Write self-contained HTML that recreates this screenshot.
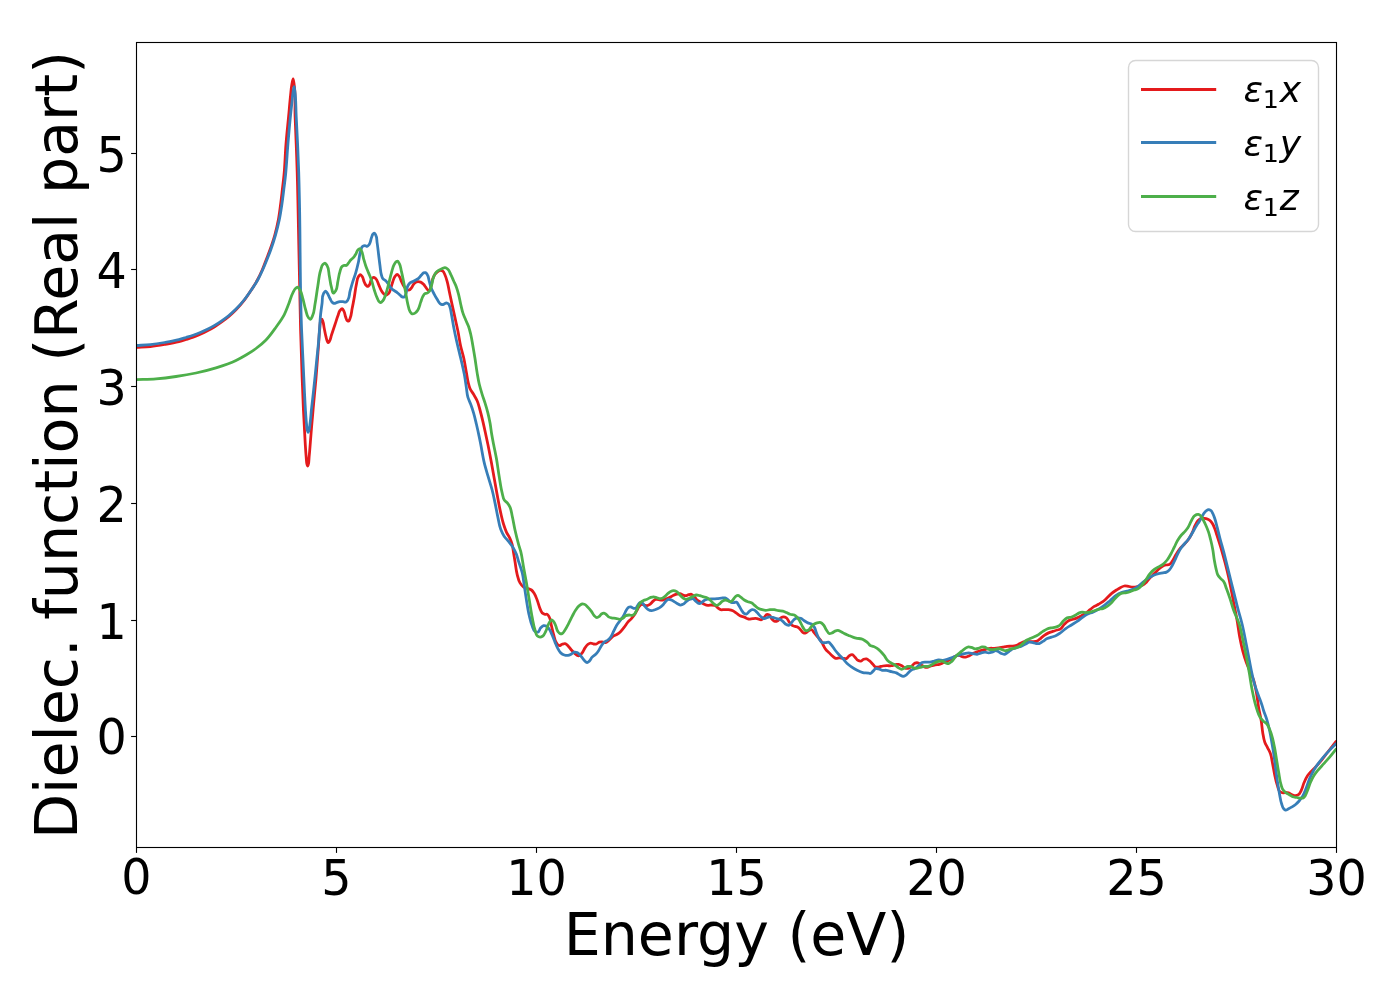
<!DOCTYPE html>
<html lang="en"><head><meta charset="utf-8"><title>Dielectric function (Real part)</title>
<style>html,body{margin:0;padding:0;background:#fff}body{width:1400px;height:1000px;overflow:hidden}svg{display:block}text{font-family:"DejaVu Sans","Liberation Sans",sans-serif;fill:#000}.tk{font-size:47.60px}.lb{font-size:58.60px}.lg{font-size:36.10px}.it{font-style:oblique}.sb{font-size:25.30px}</style></head><body>
<svg width="1400" height="1000" viewBox="0 0 1400 1000">
<rect width="1400" height="1000" fill="#fff"/>
<defs><clipPath id="ax"><rect x="136.5" y="42.5" width="1200.0" height="805.0"/></clipPath></defs>
<g clip-path="url(#ax)" fill="none" stroke-width="2.78" stroke-linejoin="round" stroke-linecap="butt">
<path stroke="#e41a1c" d="M136.50 347.40C141.10 347.13 145.72 347.06 150.30 346.60C155.09 346.12 159.86 345.33 164.60 344.50C169.39 343.66 174.20 342.84 178.90 341.60C181.28 340.97 183.64 340.23 186.00 339.50C188.38 338.76 190.77 338.06 193.10 337.20C195.54 336.30 197.93 335.26 200.30 334.20C202.69 333.13 205.08 332.01 207.40 330.80C209.85 329.52 212.26 328.16 214.60 326.70C217.03 325.19 219.38 323.57 221.70 321.90C224.15 320.14 226.59 318.34 228.90 316.40C231.37 314.32 233.74 312.11 236.00 309.80C238.95 306.78 241.72 303.55 244.30 300.20C246.81 296.94 249.06 293.46 251.30 290.00C253.42 286.72 255.54 283.43 257.40 280.00C259.16 276.75 260.73 273.39 262.20 270.00C263.62 266.72 264.81 263.34 266.10 260.00C267.38 256.67 268.70 253.36 269.90 250.00C271.67 245.05 273.39 240.06 274.80 235.00C276.18 230.06 277.35 225.04 278.30 220.00C279.24 215.04 279.83 210.01 280.50 205.00C281.17 200.01 281.72 195.00 282.30 190.00C282.88 185.00 283.51 180.01 284.00 175.00C285.00 164.70 285.15 154.32 285.98 144.00C286.73 134.66 287.76 125.33 288.64 116.00C289.30 109.00 289.85 101.99 290.60 95.00C290.95 91.73 291.14 88.43 291.72 85.20C292.10 83.09 292.70 78.88 293.12 78.90C293.54 78.92 293.92 83.09 294.24 85.20C295.78 95.34 294.73 105.74 295.08 116.00C295.40 125.34 295.85 134.67 296.20 144.00C296.55 153.33 296.90 162.67 297.18 172.00C297.46 181.33 297.65 190.67 297.88 200.00C298.93 243.33 299.33 286.68 300.60 330.00C301.05 345.50 301.51 361.00 302.10 376.50C302.31 382.00 302.54 387.50 302.76 393.00C302.98 398.50 303.16 404.01 303.42 409.50C303.68 415.01 304.01 420.51 304.30 426.01C304.59 431.51 304.84 437.01 305.18 442.51C305.48 447.28 305.70 452.06 306.17 456.81C306.42 459.38 306.33 462.04 307.05 464.51C307.21 465.07 307.40 466.15 307.60 466.16C307.81 466.17 308.07 465.07 308.26 464.51C309.10 462.08 308.88 459.38 309.14 456.81C309.64 452.05 309.96 447.28 310.35 442.51C310.81 437.01 311.21 431.51 311.67 426.01C312.13 420.50 312.61 415.00 313.10 409.50C313.53 404.74 313.98 399.97 314.42 395.20C314.90 390.07 315.41 384.94 315.85 379.80C316.29 374.67 316.67 369.53 317.06 364.40C317.64 356.93 318.20 349.47 318.76 342.00C319.11 337.33 319.23 332.64 319.81 328.00C320.13 325.43 319.73 322.53 321.00 320.30C321.25 319.87 321.59 319.10 321.84 319.04C322.20 318.96 322.48 320.33 322.75 321.00C323.63 323.20 323.67 325.67 324.15 328.00C324.72 330.80 325.19 333.63 325.90 336.40C326.32 338.04 326.52 339.80 327.30 341.30C327.55 341.78 327.82 342.64 328.14 342.70C328.51 342.77 329.03 341.80 329.40 341.30C330.71 339.55 330.80 337.10 331.50 335.00C332.67 331.50 333.83 328.00 335.00 324.50C335.93 321.70 336.79 318.87 337.80 316.10C338.49 314.22 338.73 312.00 339.97 310.50C340.57 309.77 341.51 308.54 342.14 308.57C342.89 308.60 343.49 310.43 344.00 311.43C344.90 313.18 344.97 315.31 345.71 317.14C346.21 318.36 346.35 320.08 347.43 320.71C347.76 320.91 348.24 321.15 348.57 321.14C349.36 321.13 349.58 319.45 350.00 318.57C351.45 315.51 351.47 311.91 352.14 308.57C352.91 304.77 353.61 300.96 354.29 297.14C355.05 292.87 355.45 288.51 356.43 284.29C357.04 281.64 357.00 278.57 358.57 276.43C359.06 275.76 359.70 274.59 360.29 274.57C360.89 274.55 361.62 275.75 362.14 276.43C363.36 278.01 363.37 280.33 364.29 282.14C364.91 283.38 365.33 284.94 366.43 285.71C366.85 286.01 367.42 286.46 367.86 286.43C368.40 286.39 368.87 285.51 369.29 285.00C370.54 283.45 370.15 280.80 371.43 279.29C372.02 278.58 372.79 277.47 373.57 277.43C374.24 277.39 375.10 278.10 375.71 278.57C377.34 279.82 377.66 282.36 378.57 284.29C379.57 286.40 380.17 288.76 381.43 290.71C382.25 291.98 383.00 293.57 384.29 294.29C384.92 294.64 385.76 295.07 386.43 295.00C387.20 294.92 387.98 294.15 388.57 293.57C389.82 292.35 390.08 290.27 390.71 288.57C391.58 286.25 391.99 283.75 392.86 281.43C393.49 279.73 393.92 277.85 395.00 276.43C395.60 275.64 396.43 274.29 397.14 274.29C397.86 274.29 398.68 275.64 399.29 276.43C400.36 277.85 400.65 279.79 401.43 281.43C402.30 283.28 403.04 285.27 404.29 286.86C405.11 287.90 405.94 289.27 407.14 289.71C407.79 289.95 408.66 290.16 409.29 290.00C410.17 289.78 410.80 288.64 411.43 287.86C412.30 286.79 412.70 285.36 413.57 284.29C414.20 283.51 414.84 282.56 415.71 282.14C416.35 281.84 417.14 281.75 417.86 281.71C418.80 281.67 419.84 281.81 420.71 282.14C421.79 282.56 422.74 283.45 423.57 284.29C424.40 285.12 425.00 286.19 425.71 287.14C426.43 288.10 426.82 289.56 427.86 290.00C428.28 290.18 428.89 290.35 429.29 290.29C430.22 290.13 430.29 288.21 430.71 287.14C431.79 284.41 431.75 281.28 432.86 278.57C433.46 277.10 434.06 275.55 435.00 274.29C435.79 273.22 436.72 272.09 437.86 271.43C438.71 270.93 439.76 270.39 440.71 270.43C441.43 270.46 442.26 270.76 442.86 271.14C444.02 271.89 444.38 273.67 445.00 275.00C445.95 277.04 446.52 279.26 447.14 281.43C448.08 284.70 448.57 288.09 449.29 291.43C450.10 295.24 450.89 299.05 451.71 302.86C452.74 307.62 453.81 312.38 454.86 317.14C455.90 321.90 457.04 326.65 458.00 331.43C458.95 336.17 459.54 340.99 460.57 345.71C461.52 350.03 462.91 354.25 463.86 358.57C464.89 363.29 465.56 368.10 466.43 372.86C467.04 376.19 467.44 379.58 468.29 382.86C468.78 384.78 469.20 386.77 470.00 388.57C470.90 390.61 472.43 392.35 473.57 394.29C474.82 396.40 476.15 398.49 477.14 400.71C478.45 403.66 479.12 406.88 480.00 410.00C481.06 413.78 481.95 417.61 482.86 421.43C483.87 425.70 484.78 430.00 485.71 434.29C486.44 437.62 487.17 440.95 487.86 444.29C489.13 450.46 490.28 456.66 491.43 462.86C492.66 469.52 493.80 476.19 495.00 482.86C495.95 488.10 496.86 493.34 497.86 498.57C498.77 503.34 499.64 508.12 500.71 512.86C501.59 516.68 502.39 520.55 503.57 524.29C504.41 526.94 505.26 529.62 506.43 532.14C507.45 534.36 508.99 536.35 510.00 538.57C510.84 540.42 511.59 542.34 512.14 544.29C512.94 547.06 513.10 550.00 513.57 552.86C514.05 555.71 514.52 558.57 515.00 561.43C515.71 565.71 516.04 570.10 517.14 574.29C517.91 577.19 518.44 580.34 520.00 582.86C520.96 584.41 522.06 586.18 523.57 587.14C524.79 587.92 526.45 588.05 527.86 588.57C529.06 589.02 530.42 589.28 531.43 590.00C532.63 590.85 533.46 592.30 534.29 593.57C535.55 595.53 536.28 597.82 537.14 600.00C538.25 602.80 538.79 605.82 540.00 608.57C540.64 610.03 541.00 611.86 542.14 612.86C542.90 613.52 543.98 614.09 545.00 614.29C545.68 614.41 546.54 614.07 547.14 614.29C548.15 614.64 548.69 616.13 549.29 617.14C550.75 619.64 550.71 622.86 551.43 625.71C552.14 628.57 552.75 631.46 553.57 634.29C554.41 637.18 554.66 640.50 556.43 642.86C557.22 643.91 558.19 645.63 559.29 645.71C560.15 645.78 561.15 644.65 562.14 644.29C563.06 643.95 564.12 643.44 565.00 643.57C566.06 643.74 566.98 644.92 567.86 645.71C569.23 646.95 570.17 648.63 571.43 650.00C572.57 651.24 573.72 652.49 575.00 653.57C575.91 654.34 576.76 655.54 577.86 655.71C578.52 655.82 579.38 655.70 580.00 655.43C580.95 655.00 581.49 653.76 582.14 652.86C583.27 651.31 583.91 649.43 585.00 647.86C585.87 646.61 586.63 645.10 587.86 644.29C588.68 643.74 589.75 643.18 590.71 643.14C591.65 643.11 592.60 643.86 593.57 644.00C594.50 644.13 595.55 644.24 596.43 644.00C597.48 643.72 598.24 642.49 599.29 642.14C600.17 641.85 601.20 641.83 602.14 641.86C603.34 641.89 604.62 642.76 605.71 642.57C607.04 642.34 608.17 640.94 609.29 640.00C610.57 638.92 611.50 637.39 612.86 636.43C614.14 635.51 615.81 635.15 617.14 634.29C618.42 633.47 619.62 632.48 620.71 631.43C622.05 630.15 623.15 628.61 624.29 627.14C625.54 625.53 626.53 623.69 627.86 622.14C628.95 620.87 630.31 619.83 631.43 618.57C632.44 617.43 633.42 616.25 634.29 615.00C635.38 613.43 636.17 611.65 637.14 610.00C637.85 608.80 638.42 607.50 639.29 606.43C639.92 605.65 640.58 604.51 641.43 604.29C642.25 604.06 643.33 604.76 644.29 605.00C645.24 605.24 646.23 605.80 647.14 605.71C648.14 605.62 649.14 604.88 650.00 604.29C651.09 603.53 651.84 602.30 652.86 601.43C653.76 600.65 654.64 599.51 655.71 599.29C656.59 599.11 657.62 599.60 658.57 599.71C659.99 599.88 661.46 600.17 662.86 600.00C664.32 599.82 665.75 599.14 667.14 598.57C668.62 597.96 670.00 597.14 671.43 596.43C672.86 595.71 674.19 594.65 675.71 594.29C676.63 594.07 677.64 594.21 678.57 594.00C679.05 593.89 679.53 593.60 680.00 593.57C681.00 593.51 681.86 594.64 682.86 595.00C683.77 595.33 684.77 595.75 685.71 595.71C686.68 595.67 687.60 594.95 688.57 594.71C689.50 594.49 690.56 594.11 691.43 594.29C692.51 594.51 693.42 595.62 694.29 596.43C695.39 597.46 696.00 599.02 697.14 600.00C698.18 600.89 699.52 601.43 700.71 602.14C701.90 602.86 703.03 603.72 704.29 604.29C705.42 604.79 706.64 605.32 707.86 605.43C709.02 605.53 710.24 605.00 711.43 605.00C712.62 605.00 713.95 604.98 715.00 605.43C716.10 605.90 716.85 607.11 717.86 607.86C718.77 608.53 719.67 609.42 720.71 609.71C721.81 610.02 723.10 609.58 724.29 609.57C725.71 609.56 727.16 609.53 728.57 609.71C730.02 609.90 731.54 610.13 732.86 610.71C734.15 611.28 735.25 612.32 736.43 613.14C737.63 613.98 738.71 615.05 740.00 615.71C741.32 616.39 742.88 616.61 744.29 617.14C745.74 617.70 747.08 618.78 748.57 619.00C749.95 619.20 751.43 618.64 752.86 618.57C754.28 618.50 755.74 618.39 757.14 618.57C758.60 618.76 760.18 620.07 761.43 619.71C762.51 619.41 763.36 618.02 764.29 617.14C765.26 616.22 765.98 614.35 767.14 614.29C767.79 614.25 768.66 614.64 769.29 615.00C770.71 615.81 770.94 618.09 772.14 619.29C772.98 620.11 773.94 621.26 775.00 621.43C775.88 621.56 777.01 621.14 777.86 620.71C779.01 620.12 779.58 618.52 780.71 617.86C781.56 617.36 782.62 616.86 783.57 616.86C784.52 616.86 785.62 617.34 786.43 617.86C787.80 618.74 788.24 620.79 789.29 622.14C790.17 623.29 790.94 624.70 792.14 625.43C792.98 625.94 794.03 626.14 795.00 626.43C795.94 626.71 797.01 626.71 797.86 627.14C799.01 627.73 799.76 629.05 800.71 630.00C801.67 630.95 802.36 632.53 803.57 632.86C804.21 633.03 805.05 633.02 805.71 632.86C806.82 632.59 807.53 631.25 808.57 630.71C809.46 630.26 810.59 629.60 811.43 629.71C812.61 629.88 813.35 631.79 814.29 632.86C815.51 634.26 816.67 635.71 817.86 637.14C819.05 638.57 820.43 639.87 821.43 641.43C822.29 642.76 822.80 644.32 823.57 645.71C824.24 646.93 824.88 648.19 825.71 649.29C826.73 650.61 828.10 651.67 829.29 652.86C830.48 654.05 831.53 655.40 832.86 656.43C833.75 657.12 834.68 658.03 835.71 658.29C836.81 658.55 838.10 657.86 839.29 657.86C840.48 657.86 841.66 658.17 842.86 658.29C844.05 658.40 845.40 658.92 846.43 658.57C847.59 658.18 848.15 656.38 849.29 655.71C850.14 655.22 851.27 654.61 852.14 654.71C853.22 654.85 854.10 656.28 855.00 657.14C856.02 658.12 856.67 659.61 857.86 660.29C858.69 660.76 859.82 661.24 860.71 661.14C861.74 661.03 862.53 659.66 863.57 659.29C864.46 658.97 865.54 658.69 866.43 658.86C867.47 659.05 868.39 660.02 869.29 660.71C870.61 661.74 871.67 663.10 872.86 664.29C873.81 665.24 874.56 666.75 875.71 667.14C876.74 667.49 878.11 667.04 879.29 666.86C880.49 666.67 881.65 666.19 882.86 666.00C884.27 665.78 885.71 665.76 887.14 665.71C888.57 665.67 890.02 665.90 891.43 665.71C892.88 665.53 894.26 664.81 895.71 664.57C896.66 664.42 897.66 664.17 898.57 664.29C899.83 664.45 900.99 665.36 902.14 666.00C903.38 666.68 904.41 668.03 905.71 668.29C906.82 668.51 908.21 668.29 909.29 667.86C910.35 667.43 911.22 666.47 912.14 665.71C913.13 664.90 913.86 663.58 915.00 663.14C915.85 662.81 916.97 662.68 917.86 662.86C918.89 663.06 919.77 663.99 920.71 664.57C921.92 665.31 922.98 666.38 924.29 666.86C925.18 667.18 926.21 667.48 927.14 667.43C928.37 667.37 929.50 666.39 930.71 666.00C932.11 665.55 933.56 665.29 935.00 665.00C936.42 664.72 937.90 664.67 939.29 664.29C940.76 663.88 942.15 663.16 943.57 662.57C945.01 661.97 946.46 661.41 947.86 660.71C949.33 659.99 950.74 659.14 952.14 658.29C953.35 657.55 954.41 656.47 955.71 656.00C956.82 655.60 958.13 655.31 959.29 655.43C960.52 655.55 961.62 656.58 962.86 656.86C963.78 657.06 964.79 657.24 965.71 657.14C966.95 657.01 968.14 656.28 969.29 655.71C970.53 655.10 971.63 654.21 972.86 653.57C974.24 652.86 975.69 652.27 977.14 651.71C978.55 651.18 979.98 650.69 981.43 650.29C982.84 649.89 984.29 649.62 985.71 649.29C987.14 648.95 988.55 648.45 990.00 648.29C991.41 648.13 992.86 648.36 994.29 648.29C995.72 648.21 997.15 648.05 998.57 647.86C1000.01 647.67 1001.43 647.38 1002.86 647.14C1004.29 646.90 1005.71 646.60 1007.14 646.43C1008.56 646.26 1010.00 646.26 1011.43 646.14C1012.86 646.02 1014.35 646.09 1015.71 645.71C1017.23 645.29 1018.55 644.25 1020.00 643.57C1021.41 642.91 1022.79 642.01 1024.29 641.71C1025.66 641.44 1027.14 641.71 1028.57 641.71C1030.00 641.71 1031.43 641.81 1032.86 641.71C1034.29 641.62 1035.86 641.68 1037.14 641.14C1038.50 640.58 1039.52 639.24 1040.71 638.29C1041.90 637.33 1043.04 636.30 1044.29 635.43C1045.65 634.48 1047.06 633.54 1048.57 632.86C1049.93 632.24 1051.43 631.90 1052.86 631.43C1054.29 630.95 1055.69 630.41 1057.14 630.00C1058.09 629.73 1059.14 629.68 1060.00 629.29C1061.91 628.40 1062.72 625.81 1064.29 624.29C1065.61 622.99 1066.96 621.57 1068.57 620.71C1069.88 620.02 1071.43 619.76 1072.86 619.29C1074.29 618.81 1075.75 618.43 1077.14 617.86C1078.62 617.25 1080.03 616.48 1081.43 615.71C1082.89 614.91 1084.35 614.09 1085.71 613.14C1087.22 612.11 1088.56 610.84 1090.00 609.71C1091.42 608.60 1092.76 607.37 1094.29 606.43C1095.64 605.59 1097.17 605.05 1098.57 604.29C1100.03 603.49 1101.52 602.69 1102.86 601.71C1104.40 600.59 1105.75 599.18 1107.14 597.86C1108.61 596.47 1109.89 594.87 1111.43 593.57C1112.99 592.25 1114.71 591.12 1116.43 590.00C1117.82 589.09 1119.22 588.15 1120.71 587.43C1121.87 586.87 1123.05 586.19 1124.29 586.00C1125.66 585.79 1127.15 586.24 1128.57 586.43C1130.01 586.62 1131.42 587.10 1132.86 587.14C1134.04 587.18 1135.26 587.09 1136.43 586.86C1137.40 586.67 1138.33 586.28 1139.29 586.00C1140.47 585.65 1141.77 585.53 1142.86 585.00C1144.20 584.35 1145.33 583.19 1146.43 582.14C1147.76 580.86 1148.75 579.23 1150.00 577.86C1151.36 576.36 1152.86 575.00 1154.29 573.57C1155.71 572.14 1157.06 570.62 1158.57 569.29C1159.71 568.28 1160.83 567.17 1162.14 566.43C1163.25 565.80 1164.48 565.31 1165.71 565.00C1166.87 564.71 1168.27 565.06 1169.29 564.57C1170.48 564.00 1171.29 562.55 1172.14 561.43C1173.62 559.49 1174.44 557.09 1175.71 555.00C1177.05 552.80 1178.35 550.53 1180.00 548.57C1181.29 547.03 1182.91 545.76 1184.29 544.29C1185.78 542.68 1187.31 541.07 1188.57 539.29C1189.98 537.29 1191.09 535.07 1192.14 532.86C1193.25 530.55 1193.86 528.01 1195.00 525.71C1195.85 524.00 1196.54 522.06 1197.86 520.71C1198.67 519.88 1199.64 518.98 1200.71 518.57C1201.79 518.17 1203.12 518.18 1204.29 518.29C1205.50 518.40 1206.75 518.77 1207.86 519.29C1208.88 519.75 1209.91 520.37 1210.71 521.14C1211.61 522.00 1212.24 523.19 1212.86 524.29C1213.62 525.64 1214.15 527.12 1214.71 528.57C1215.54 530.67 1216.15 532.85 1216.86 535.00C1218.38 539.65 1219.90 544.31 1221.29 549.00C1222.66 553.64 1223.92 558.32 1225.14 563.00C1226.35 567.65 1227.52 572.31 1228.57 577.00C1229.61 581.65 1230.50 586.33 1231.43 591.00C1232.36 595.66 1233.24 600.33 1234.14 605.00C1235.05 609.67 1236.02 614.32 1236.86 619.00C1238.03 625.50 1238.72 632.09 1240.00 638.57C1240.85 642.88 1241.72 647.19 1242.86 651.43C1243.89 655.28 1245.04 659.12 1246.43 662.86C1247.50 665.76 1248.81 668.57 1250.00 671.43C1251.19 674.29 1252.60 677.07 1253.57 680.00C1254.96 684.15 1255.62 688.54 1256.43 692.86C1257.32 697.59 1257.76 702.40 1258.57 707.14C1259.38 711.85 1260.57 716.49 1261.30 721.20C1261.88 724.92 1262.06 728.70 1262.70 732.40C1263.27 735.69 1263.61 739.10 1264.80 742.20C1265.54 744.13 1266.67 745.93 1267.60 747.80C1268.53 749.67 1269.66 751.47 1270.40 753.40C1271.59 756.50 1271.84 759.93 1272.50 763.20C1273.25 766.92 1273.79 770.69 1274.60 774.40C1275.42 778.16 1276.07 782.00 1277.40 785.60C1278.19 787.75 1278.40 790.74 1280.20 791.90C1280.97 792.40 1282.05 792.82 1283.00 792.88C1283.92 792.94 1284.87 792.32 1285.80 792.32C1286.73 792.32 1287.70 792.59 1288.60 792.88C1289.84 793.28 1290.88 794.22 1292.10 794.70C1293.22 795.14 1294.45 795.75 1295.60 795.68C1296.54 795.62 1297.61 795.21 1298.40 794.70C1299.75 793.83 1300.40 791.97 1301.20 790.50C1302.49 788.12 1302.92 785.30 1304.00 782.80C1305.03 780.41 1306.04 777.94 1307.50 775.80C1308.52 774.31 1309.77 772.95 1311.00 771.60C1312.33 770.14 1313.83 768.83 1315.20 767.40C1317.14 765.37 1319.00 763.25 1320.80 761.10C1323.25 758.17 1325.46 755.03 1327.80 752.00C1330.69 748.26 1333.60 744.53 1336.50 740.80"/>
<path stroke="#377eb8" d="M136.50 345.50C141.10 345.20 145.72 345.08 150.30 344.60C155.09 344.10 159.86 343.33 164.60 342.50C169.39 341.66 174.20 340.84 178.90 339.60C181.28 338.97 183.64 338.22 186.00 337.50C188.37 336.78 190.76 336.11 193.10 335.30C195.53 334.45 197.93 333.50 200.30 332.50C202.69 331.50 205.07 330.45 207.40 329.30C209.85 328.09 212.25 326.79 214.60 325.40C217.02 323.96 219.38 322.40 221.70 320.80C224.15 319.11 226.59 317.38 228.90 315.50C231.37 313.49 233.74 311.34 236.00 309.10C238.88 306.24 241.56 303.16 244.10 300.00C246.67 296.80 248.99 293.40 251.30 290.00C253.52 286.73 255.77 283.45 257.70 280.00C259.51 276.77 261.07 273.38 262.60 270.00C264.09 266.71 265.44 263.35 266.80 260.00C268.14 256.68 269.48 253.36 270.70 250.00C272.48 245.06 274.06 240.05 275.50 235.00C276.91 230.05 278.19 225.04 279.25 220.00C280.29 215.04 281.05 210.01 281.80 205.00C282.55 200.01 283.12 195.00 283.75 190.00C284.37 185.00 285.02 180.01 285.55 175.00C286.64 164.70 287.07 154.33 287.94 144.00C288.72 134.66 289.50 125.32 290.46 116.00C290.94 111.33 291.48 106.67 292.00 102.00C292.42 98.27 292.61 94.50 293.26 90.80C293.51 89.39 293.84 86.59 294.10 86.60C294.36 86.61 294.59 89.40 294.80 90.80C296.05 99.11 295.76 107.60 296.20 116.00C296.69 125.33 297.18 134.66 297.60 144.00C298.02 153.33 298.42 162.66 298.72 172.00C299.02 181.33 299.20 190.67 299.42 200.00C300.44 243.33 299.84 286.70 301.60 330.00C302.01 340.00 302.52 350.00 302.98 360.00C303.24 365.50 303.49 371.00 303.75 376.50C304.01 382.00 304.25 387.50 304.52 393.00C304.80 398.50 305.04 404.01 305.40 409.50C305.72 414.28 305.95 419.06 306.50 423.81C306.76 426.01 306.78 428.28 307.38 430.41C307.57 431.07 307.79 432.36 308.04 432.39C308.30 432.41 308.67 431.08 308.92 430.41C309.70 428.33 309.70 426.01 310.02 423.81C310.71 419.07 310.95 414.27 311.45 409.50C312.04 404.00 312.72 398.51 313.32 393.00C313.93 387.50 314.51 382.00 315.08 376.50C315.65 371.00 316.18 365.50 316.73 360.00C317.34 354.00 318.03 348.01 318.55 342.00C318.95 337.34 319.25 332.67 319.60 328.00C319.95 323.33 320.15 318.65 320.65 314.00C321.03 310.49 321.55 306.99 322.05 303.50C322.53 300.19 321.89 296.38 323.57 293.57C324.08 292.72 324.75 291.10 325.43 291.14C325.96 291.18 326.63 292.24 327.14 292.86C328.50 294.47 328.92 296.74 330.00 298.57C330.87 300.05 331.39 302.20 332.86 302.86C333.48 303.14 334.30 303.34 335.00 303.29C335.73 303.22 336.41 302.67 337.14 302.43C338.07 302.12 339.03 301.83 340.00 301.71C340.94 301.60 341.91 301.64 342.86 301.71C343.81 301.79 344.89 302.40 345.71 302.14C346.57 301.87 347.26 300.78 347.86 300.00C349.59 297.72 349.24 294.27 350.00 291.43C350.89 288.08 351.83 284.74 352.86 281.43C353.75 278.55 354.86 275.74 355.71 272.86C356.83 269.10 357.71 265.26 358.57 261.43C359.37 257.88 359.49 254.12 360.71 250.71C361.24 249.26 361.39 247.22 362.57 246.43C363.21 246.00 364.20 245.69 365.00 245.71C365.72 245.74 366.51 246.52 367.14 246.43C368.00 246.31 368.69 245.08 369.29 244.29C370.61 242.52 370.61 239.96 371.43 237.86C371.96 236.51 372.07 234.76 373.14 233.86C373.48 233.58 373.94 233.16 374.29 233.14C374.88 233.11 375.31 234.35 375.71 235.00C377.08 237.23 376.73 240.23 377.14 242.86C377.74 246.65 378.10 250.48 378.57 254.29C379.05 258.10 379.46 261.91 380.00 265.71C380.44 268.82 380.47 272.04 381.43 275.00C381.82 276.21 382.10 277.60 382.86 278.57C383.56 279.47 384.85 279.91 385.71 280.71C386.82 281.75 387.67 283.06 388.57 284.29C389.59 285.67 390.23 287.38 391.43 288.57C392.26 289.40 393.31 290.03 394.29 290.71C395.22 291.36 396.23 291.90 397.14 292.57C398.15 293.31 399.05 294.19 400.00 295.00C400.72 295.62 401.30 296.52 402.14 296.86C402.70 297.08 403.49 297.28 404.00 297.14C404.91 296.91 405.23 295.27 405.71 294.29C407.01 291.67 406.39 288.21 407.86 285.71C408.45 284.70 409.10 283.59 410.00 282.86C410.80 282.20 411.90 281.90 412.86 281.43C413.81 280.95 414.78 280.51 415.71 280.00C416.69 279.47 417.72 278.97 418.57 278.29C419.69 277.39 420.43 276.05 421.43 275.00C422.12 274.27 422.68 273.23 423.57 272.86C424.12 272.63 424.89 272.43 425.43 272.57C426.13 272.75 426.65 273.66 427.14 274.29C428.64 276.20 428.57 279.05 429.29 281.43C430.00 283.81 430.50 286.28 431.43 288.57C432.22 290.54 433.28 292.41 434.29 294.29C435.19 295.98 436.13 297.66 437.14 299.29C438.05 300.74 438.63 302.62 440.00 303.57C440.63 304.01 441.40 304.51 442.14 304.57C442.84 304.62 443.60 304.27 444.29 304.00C445.04 303.71 445.71 302.86 446.43 302.86C447.14 302.86 448.01 303.47 448.57 304.00C449.36 304.75 449.60 306.07 450.00 307.14C450.83 309.41 450.97 311.90 451.43 314.29C452.25 318.56 452.89 322.87 453.71 327.14C454.64 331.92 455.65 336.68 456.71 341.43C457.57 345.25 458.52 349.05 459.43 352.86C460.33 356.67 461.28 360.47 462.14 364.29C463.00 368.09 463.88 371.88 464.57 375.71C465.26 379.50 465.70 383.34 466.29 387.14C466.80 390.48 466.92 393.92 467.86 397.14C468.57 399.59 469.83 401.88 470.71 404.29C471.76 407.11 472.72 409.97 473.57 412.86C474.69 416.62 475.52 420.46 476.43 424.29C477.44 428.56 478.39 432.84 479.29 437.14C479.78 439.52 480.24 441.90 480.71 444.29C481.94 450.47 482.80 456.74 484.29 462.86C485.33 467.18 486.63 471.44 487.86 475.71C489.23 480.49 490.90 485.19 492.14 490.00C493.24 494.25 494.09 498.56 495.00 502.86C496.01 507.61 496.82 512.40 497.86 517.14C498.75 521.20 499.21 525.44 500.71 529.29C501.68 531.75 502.80 534.24 504.29 536.43C505.51 538.23 507.20 539.72 508.57 541.43C510.06 543.28 511.60 545.13 512.86 547.14C514.26 549.39 515.46 551.82 516.43 554.29C517.33 556.59 517.84 559.05 518.57 561.43C519.76 565.25 521.35 568.98 522.29 572.86C523.30 577.06 523.63 581.43 524.29 585.71C525.01 590.47 525.64 595.25 526.43 600.00C527.30 605.25 528.02 610.55 529.29 615.71C530.11 619.08 530.82 622.53 532.14 625.71C532.96 627.67 533.29 630.47 535.00 631.43C535.79 631.87 537.05 632.29 537.86 632.14C539.26 631.89 539.51 629.05 540.71 627.86C541.55 627.03 542.49 625.94 543.57 625.71C544.44 625.53 545.60 625.77 546.43 626.14C547.65 626.69 548.46 628.15 549.29 629.29C550.53 630.99 551.26 633.06 552.14 635.00C553.20 637.33 554.00 639.78 555.00 642.14C555.91 644.30 556.70 646.54 557.86 648.57C558.70 650.06 559.47 651.73 560.71 652.86C561.72 653.77 562.99 654.58 564.29 655.00C565.40 655.36 566.70 655.57 567.86 655.43C569.09 655.28 570.30 654.59 571.43 654.00C572.43 653.47 573.24 652.34 574.29 652.14C575.17 651.98 576.29 652.22 577.14 652.57C578.26 653.03 579.12 654.12 580.00 655.00C581.07 656.08 581.88 657.40 582.86 658.57C583.79 659.69 584.51 661.09 585.71 661.86C586.16 662.14 586.68 662.54 587.14 662.57C587.89 662.63 588.65 661.70 589.29 661.14C590.51 660.09 591.02 658.32 592.14 657.14C593.19 656.05 594.64 655.36 595.71 654.29C596.79 653.21 597.71 651.96 598.57 650.71C599.66 649.14 600.34 647.29 601.43 645.71C602.29 644.46 603.15 643.12 604.29 642.14C605.32 641.25 606.77 640.85 607.86 640.00C608.91 639.18 609.90 638.19 610.71 637.14C612.01 635.48 612.62 633.33 613.57 631.43C614.52 629.52 615.33 627.53 616.43 625.71C617.48 623.97 618.81 622.38 620.00 620.71C621.19 619.05 622.52 617.46 623.57 615.71C624.67 613.90 625.27 611.78 626.43 610.00C627.08 609.01 627.57 607.60 628.57 607.14C629.18 606.87 630.03 606.78 630.71 606.86C631.73 606.97 632.55 608.09 633.57 608.29C634.26 608.41 635.11 608.50 635.71 608.29C636.81 607.90 637.06 606.03 637.86 605.00C638.52 604.15 639.07 602.81 640.00 602.57C640.62 602.41 641.51 602.61 642.14 602.86C643.47 603.38 643.98 605.30 645.00 606.43C645.90 607.43 646.75 608.56 647.86 609.29C648.91 609.97 650.22 610.66 651.43 610.71C652.60 610.77 653.83 610.12 655.00 609.71C656.47 609.21 657.96 608.65 659.29 607.86C660.58 607.08 661.79 606.07 662.86 605.00C663.93 603.93 664.61 602.46 665.71 601.43C666.58 600.62 667.51 599.45 668.57 599.29C669.45 599.15 670.52 599.65 671.43 600.00C672.71 600.49 673.81 601.43 675.00 602.14C676.19 602.86 677.34 603.64 678.57 604.29C679.04 604.53 679.51 604.89 680.00 605.00C680.90 605.20 681.98 604.67 682.86 604.29C684.22 603.69 685.18 602.29 686.43 601.43C687.57 600.64 688.72 599.78 690.00 599.29C690.91 598.94 692.00 598.42 692.86 598.57C693.97 598.77 694.71 600.35 695.71 601.14C696.84 602.03 698.04 603.60 699.29 603.57C700.21 603.55 701.24 602.70 702.14 602.14C703.15 601.52 703.95 600.52 705.00 600.00C706.09 599.46 707.36 599.20 708.57 599.00C709.97 598.77 711.43 598.93 712.86 598.86C714.29 598.79 715.72 598.69 717.14 598.57C718.57 598.45 720.00 598.27 721.43 598.14C722.62 598.04 723.91 597.57 725.00 597.86C726.04 598.13 726.95 599.04 727.86 599.71C728.86 600.46 729.60 601.69 730.71 602.14C731.57 602.49 732.62 602.57 733.57 602.57C734.52 602.57 735.64 601.88 736.43 602.14C737.40 602.47 737.90 604.02 738.57 605.00C739.65 606.59 740.34 608.43 741.43 610.00C742.29 611.25 742.97 612.98 744.29 613.57C744.92 613.85 745.78 614.09 746.43 614.00C747.57 613.85 748.25 612.18 749.29 611.43C750.18 610.78 751.10 609.85 752.14 609.71C752.82 609.63 753.64 609.77 754.29 610.00C755.44 610.42 756.23 611.68 757.14 612.57C758.40 613.79 759.40 615.28 760.71 616.43C761.61 617.21 762.51 618.41 763.57 618.57C764.45 618.71 765.49 618.14 766.43 617.86C767.39 617.57 768.31 616.97 769.29 616.86C770.45 616.73 771.69 617.15 772.86 617.43C774.07 617.72 775.22 618.26 776.43 618.57C777.60 618.87 778.92 618.80 780.00 619.29C781.06 619.76 781.93 620.68 782.86 621.43C784.09 622.42 785.02 623.92 786.43 624.57C787.18 624.92 788.13 625.39 788.86 625.29C789.87 625.14 790.62 623.72 791.43 622.86C792.47 621.75 793.09 620.18 794.29 619.29C795.12 618.66 796.14 618.05 797.14 617.86C798.27 617.64 799.61 617.90 800.71 618.29C802.04 618.75 803.07 619.94 804.29 620.71C805.46 621.46 806.60 622.30 807.86 622.86C808.99 623.36 810.40 623.36 811.43 624.00C812.59 624.72 813.52 625.98 814.29 627.14C815.39 628.81 815.66 630.97 816.43 632.86C817.31 635.03 817.97 637.37 819.29 639.29C820.10 640.47 820.92 642.08 822.14 642.57C823.15 642.98 824.53 642.67 825.71 642.57C826.67 642.49 827.73 641.94 828.57 642.14C829.75 642.42 830.54 643.99 831.43 645.00C832.77 646.53 833.75 648.38 835.00 650.00C836.14 651.47 837.32 652.91 838.57 654.29C839.93 655.78 841.48 657.09 842.86 658.57C844.35 660.18 845.54 662.09 847.14 663.57C848.46 664.79 849.95 665.84 851.43 666.86C853.25 668.12 855.16 669.31 857.14 670.29C858.98 671.19 860.88 672.10 862.86 672.57C864.70 673.01 866.72 672.67 868.57 673.14C869.05 673.27 869.55 673.56 870.00 673.57C871.08 673.60 871.96 672.20 872.86 671.43C873.88 670.55 874.54 668.89 875.71 668.57C876.55 668.35 877.65 668.65 878.57 668.86C879.81 669.13 880.91 670.03 882.14 670.29C883.52 670.57 885.02 670.11 886.43 670.29C888.13 670.50 889.75 671.28 891.43 671.71C893.08 672.14 894.87 672.20 896.43 672.86C897.69 673.39 898.77 674.36 900.00 675.00C901.02 675.53 902.08 676.45 903.14 676.43C903.99 676.41 904.94 675.89 905.71 675.43C906.85 674.75 907.59 673.50 908.57 672.57C909.50 671.69 910.36 670.67 911.43 670.00C912.50 669.33 913.90 669.20 915.00 668.57C916.31 667.83 917.40 666.69 918.57 665.71C919.79 664.70 920.73 663.13 922.14 662.57C923.21 662.15 924.52 662.22 925.71 662.14C927.14 662.05 928.59 662.30 930.00 662.14C931.45 661.98 932.86 661.50 934.29 661.14C935.72 660.78 937.12 660.14 938.57 660.00C939.98 659.87 941.45 660.40 942.86 660.29C944.30 660.17 945.73 659.68 947.14 659.29C948.59 658.88 950.02 658.39 951.43 657.86C952.88 657.30 954.26 656.55 955.71 656.00C957.12 655.46 958.55 654.98 960.00 654.57C961.41 654.17 962.85 653.86 964.29 653.57C965.71 653.29 967.14 652.86 968.57 652.86C970.00 652.86 971.43 653.33 972.86 653.57C974.29 653.81 975.74 654.39 977.14 654.29C978.60 654.18 979.97 653.23 981.43 652.86C982.60 652.55 983.81 652.14 985.00 652.14C986.19 652.14 987.38 652.86 988.57 652.86C989.76 652.86 990.98 652.48 992.14 652.14C993.37 651.78 994.51 650.69 995.71 650.71C996.66 650.74 997.67 651.28 998.57 651.71C999.59 652.20 1000.40 653.14 1001.43 653.57C1002.32 653.95 1003.37 654.37 1004.29 654.29C1005.28 654.19 1006.24 653.41 1007.14 652.86C1008.15 652.24 1009.02 651.40 1010.00 650.71C1010.93 650.06 1011.85 649.36 1012.86 648.86C1014.19 648.18 1015.71 647.88 1017.14 647.43C1018.56 646.98 1020.05 646.69 1021.43 646.14C1022.91 645.56 1024.29 644.73 1025.71 644.00C1026.91 643.39 1028.02 642.35 1029.29 642.14C1030.42 641.96 1031.68 642.34 1032.86 642.57C1034.07 642.81 1035.21 643.43 1036.43 643.57C1037.37 643.68 1038.39 643.77 1039.29 643.57C1040.59 643.28 1041.68 642.17 1042.86 641.43C1044.31 640.51 1045.61 639.31 1047.14 638.57C1048.49 637.93 1050.00 637.62 1051.43 637.14C1052.86 636.67 1054.35 636.33 1055.71 635.71C1057.22 635.03 1058.62 634.07 1060.00 633.14C1062.02 631.78 1063.72 629.97 1065.71 628.57C1067.55 627.28 1069.52 626.19 1071.43 625.00C1073.33 623.81 1075.29 622.70 1077.14 621.43C1079.11 620.09 1080.91 618.51 1082.86 617.14C1084.26 616.16 1085.63 615.08 1087.14 614.29C1088.93 613.35 1090.99 612.95 1092.86 612.14C1094.81 611.30 1096.73 610.35 1098.57 609.29C1100.55 608.13 1102.44 606.80 1104.29 605.43C1106.26 603.96 1108.12 602.31 1110.00 600.71C1111.93 599.08 1113.64 597.14 1115.71 595.71C1117.49 594.49 1119.42 593.35 1121.43 592.57C1123.25 591.87 1125.26 591.68 1127.14 591.14C1129.07 590.59 1131.02 590.06 1132.86 589.29C1134.33 588.67 1135.81 588.00 1137.14 587.14C1138.70 586.15 1140.00 584.76 1141.43 583.57C1142.86 582.38 1144.22 581.11 1145.71 580.00C1147.09 578.98 1148.52 578.00 1150.00 577.14C1151.38 576.35 1152.81 575.61 1154.29 575.00C1155.67 574.43 1157.11 573.93 1158.57 573.57C1159.97 573.23 1161.43 573.12 1162.86 572.86C1164.05 572.64 1165.35 572.63 1166.43 572.14C1167.49 571.67 1168.45 570.83 1169.29 570.00C1170.49 568.81 1171.27 567.19 1172.14 565.71C1173.22 563.88 1174.09 561.92 1175.00 560.00C1176.00 557.88 1176.79 555.66 1177.86 553.57C1178.73 551.87 1179.65 550.16 1180.71 548.57C1181.79 546.97 1183.04 545.48 1184.29 544.00C1185.43 542.63 1186.77 541.41 1187.86 540.00C1188.90 538.64 1189.81 537.17 1190.71 535.71C1191.73 534.08 1192.62 532.38 1193.57 530.71C1194.52 529.05 1195.42 527.34 1196.43 525.71C1197.33 524.26 1198.38 522.89 1199.29 521.43C1200.30 519.80 1201.17 518.08 1202.14 516.43C1202.85 515.23 1203.42 513.93 1204.29 512.86C1204.92 512.08 1205.60 511.27 1206.43 510.71C1207.07 510.28 1207.84 509.75 1208.57 509.71C1209.27 509.68 1210.11 510.05 1210.71 510.43C1211.74 511.07 1212.25 512.47 1212.86 513.57C1213.84 515.34 1214.36 517.36 1215.00 519.29C1215.85 521.86 1216.45 524.52 1217.14 527.14C1218.14 530.94 1219.00 534.77 1220.00 538.57C1221.13 542.87 1222.43 547.13 1223.57 551.43C1224.83 556.17 1225.95 560.95 1227.14 565.71C1228.33 570.48 1229.52 575.24 1230.71 580.00C1231.90 584.76 1233.10 589.52 1234.29 594.29C1235.48 599.05 1236.62 603.82 1237.86 608.57C1239.23 613.82 1240.87 619.01 1242.14 624.29C1243.51 629.96 1244.57 635.71 1245.71 641.43C1246.95 647.61 1248.07 653.81 1249.29 660.00C1250.22 664.76 1251.07 669.55 1252.14 674.29C1253.01 678.11 1253.85 681.96 1255.00 685.71C1256.03 689.10 1257.38 692.38 1258.57 695.71C1259.76 699.05 1261.09 702.34 1262.14 705.71C1262.59 707.13 1262.96 708.58 1263.40 710.00C1264.43 713.31 1265.89 716.49 1266.90 719.80C1268.02 723.48 1268.88 727.24 1269.70 731.00C1270.51 734.71 1271.14 738.46 1271.80 742.20C1272.54 746.39 1273.27 750.59 1273.90 754.80C1274.59 759.45 1275.11 764.13 1275.72 768.80C1276.27 773.00 1276.77 777.21 1277.40 781.40C1278.03 785.61 1278.69 789.82 1279.50 794.00C1280.13 797.28 1280.50 800.66 1281.60 803.80C1282.19 805.47 1282.50 807.45 1283.70 808.70C1284.21 809.24 1284.88 809.95 1285.52 810.10C1286.47 810.32 1287.59 809.19 1288.60 808.70C1289.78 808.13 1290.97 807.55 1292.10 806.88C1293.31 806.16 1294.51 805.39 1295.60 804.50C1296.87 803.46 1298.03 802.25 1299.10 801.00C1300.41 799.48 1301.57 797.81 1302.60 796.10C1304.04 793.69 1305.03 791.01 1306.10 788.40C1307.41 785.19 1308.23 781.78 1309.60 778.60C1310.84 775.73 1312.21 772.89 1313.80 770.20C1315.08 768.03 1316.52 765.94 1318.00 763.90C1319.75 761.48 1321.67 759.18 1323.60 756.90C1325.41 754.75 1327.28 752.65 1329.20 750.60C1331.55 748.10 1334.07 745.75 1336.50 743.32"/>
<path stroke="#4daf4a" d="M136.50 379.60C143.00 379.33 149.52 379.30 156.00 378.80C162.69 378.28 169.36 377.46 176.00 376.50C182.70 375.53 189.39 374.42 196.00 373.00C202.72 371.56 209.44 369.94 216.00 367.90C222.78 365.79 229.62 363.59 236.00 360.50C239.42 358.85 242.74 356.95 246.00 355.00C249.41 352.96 252.81 350.86 256.00 348.50C259.51 345.90 262.95 343.11 266.00 340.00C269.77 336.15 272.85 331.60 276.00 327.20C278.92 323.11 282.00 319.03 284.29 314.57C285.97 311.28 287.20 307.74 288.57 304.29C290.07 300.50 290.92 296.42 292.86 292.86C293.71 291.28 294.37 289.43 295.71 288.29C296.23 287.85 296.90 287.21 297.43 287.14C298.42 287.01 299.28 288.97 300.00 290.00C301.70 292.42 302.00 295.69 302.86 298.57C303.97 302.33 304.53 306.26 305.71 310.00C306.55 312.65 306.68 315.90 308.57 317.86C309.08 318.38 309.77 319.19 310.29 319.29C311.26 319.47 311.93 316.96 312.57 315.71C314.33 312.29 314.27 308.11 315.00 304.29C316.17 298.13 316.81 291.89 317.86 285.71C318.74 280.47 319.03 275.03 320.71 270.00C321.33 268.16 321.52 265.87 322.86 264.57C323.45 264.00 324.36 263.13 325.00 263.14C325.84 263.17 326.55 264.80 327.14 265.71C328.96 268.51 328.61 272.37 329.29 275.71C330.05 279.51 330.33 283.44 331.43 287.14C332.03 289.17 332.40 293.52 333.57 293.14C334.17 292.95 335.12 291.59 335.71 290.71C337.46 288.15 337.17 284.53 337.86 281.43C338.60 278.10 338.88 274.63 340.00 271.43C340.60 269.72 340.78 267.47 342.14 266.43C342.73 265.98 343.53 265.59 344.29 265.43C344.97 265.28 345.81 265.64 346.43 265.43C347.39 265.09 347.88 263.73 348.57 262.86C349.31 261.92 349.92 260.88 350.71 260.00C351.57 259.06 352.73 258.39 353.57 257.43C354.40 256.48 355.07 255.37 355.71 254.29C356.53 252.92 356.77 251.12 357.86 250.00C358.39 249.45 359.16 248.55 359.71 248.57C360.37 248.60 360.94 249.96 361.43 250.71C362.88 252.96 362.82 255.96 363.57 258.57C364.26 260.96 364.90 263.37 365.71 265.71C366.56 268.13 367.62 270.48 368.57 272.86C369.52 275.24 370.58 277.58 371.43 280.00C372.57 283.27 373.20 286.71 374.29 290.00C375.15 292.65 375.93 295.36 377.14 297.86C377.78 299.18 378.17 300.81 379.29 301.71C379.71 302.05 380.26 302.53 380.71 302.57C381.49 302.65 382.24 301.40 382.86 300.71C384.39 299.00 384.89 296.47 385.71 294.29C386.94 291.05 387.67 287.63 388.57 284.29C389.59 280.49 390.31 276.62 391.43 272.86C392.28 269.97 392.72 266.82 394.29 264.29C394.90 263.28 395.38 261.90 396.43 261.43C396.73 261.29 397.13 261.14 397.43 261.14C398.32 261.14 398.76 262.71 399.29 263.57C400.68 265.85 400.78 268.79 401.43 271.43C402.24 274.74 402.90 278.09 403.57 281.43C404.34 285.23 405.00 289.05 405.71 292.86C406.43 296.67 406.90 300.54 407.86 304.29C408.47 306.69 408.64 309.41 410.00 311.43C410.59 312.31 411.25 313.61 412.14 313.86C412.95 314.08 414.17 313.58 415.00 313.14C416.20 312.51 417.06 311.14 417.86 310.00C419.42 307.75 419.75 304.76 420.71 302.14C421.42 300.24 421.87 298.19 422.86 296.43C423.36 295.54 423.77 294.40 424.57 293.86C425.26 293.39 426.37 293.54 427.14 293.14C427.94 292.74 428.69 292.09 429.29 291.43C430.60 289.96 430.80 287.65 431.43 285.71C432.33 282.92 432.47 279.86 433.57 277.14C434.17 275.67 434.74 274.09 435.71 272.86C436.50 271.87 437.52 270.99 438.57 270.29C439.66 269.56 440.92 269.07 442.14 268.57C443.08 268.19 444.09 267.50 445.00 267.57C446.00 267.65 447.05 268.57 447.86 269.29C449.25 270.52 449.84 272.58 450.71 274.29C451.78 276.37 452.62 278.57 453.57 280.71C454.52 282.86 455.61 284.95 456.43 287.14C457.29 289.47 457.94 291.88 458.57 294.29C459.44 297.58 459.94 300.97 460.71 304.29C461.38 307.15 461.94 310.07 462.86 312.86C463.66 315.29 464.72 317.64 465.71 320.00C466.63 322.16 467.77 324.23 468.57 326.43C469.49 328.97 470.09 331.65 470.71 334.29C471.61 338.05 472.18 341.90 472.86 345.71C473.62 349.99 474.32 354.28 475.00 358.57C475.75 363.33 476.33 368.11 477.14 372.86C477.80 376.68 478.39 380.52 479.29 384.29C480.09 387.65 481.11 390.98 482.14 394.29C483.04 397.16 484.11 399.98 485.00 402.86C486.03 406.17 487.02 409.50 487.86 412.86C488.68 416.16 489.38 419.51 490.00 422.86C490.70 426.64 491.07 430.49 491.71 434.29C492.28 437.63 492.93 440.96 493.57 444.29C494.49 449.06 495.57 453.79 496.43 458.57C497.54 464.73 498.24 470.97 499.29 477.14C500.17 482.39 500.80 487.71 502.14 492.86C502.77 495.26 502.95 497.99 504.29 500.00C505.19 501.36 506.84 502.24 507.86 503.57C508.69 504.67 509.41 505.90 510.00 507.14C511.26 509.77 511.48 512.85 512.14 515.71C513.24 520.44 513.94 525.26 515.00 530.00C516.08 534.79 517.23 539.56 518.57 544.29C519.25 546.68 520.09 549.03 520.71 551.43C522.06 556.57 522.62 561.90 523.57 567.14C524.52 572.38 525.51 577.61 526.43 582.86C527.42 588.56 528.33 594.29 529.29 600.00C530.24 605.71 531.02 611.46 532.14 617.14C533.00 621.45 533.65 625.83 535.00 630.00C535.63 631.93 535.70 634.46 537.14 635.71C537.90 636.37 539.03 637.11 540.00 637.14C540.94 637.17 542.05 636.56 542.86 636.00C544.27 635.02 544.91 633.03 545.71 631.43C546.62 629.62 547.03 627.57 547.86 625.71C548.50 624.26 548.94 622.58 550.00 621.43C550.50 620.89 551.13 620.02 551.71 620.00C552.32 619.98 553.04 620.88 553.57 621.43C554.66 622.55 555.07 624.26 555.71 625.71C556.54 627.57 556.66 629.84 557.86 631.43C558.45 632.22 559.11 633.28 560.00 633.57C560.63 633.78 561.51 633.75 562.14 633.57C563.48 633.19 564.13 631.25 565.00 630.00C566.40 628.00 567.43 625.74 568.57 623.57C569.82 621.22 570.90 618.78 572.14 616.43C573.29 614.26 574.31 612.00 575.71 610.00C576.78 608.49 577.84 606.85 579.29 605.71C580.15 605.04 581.10 604.14 582.14 604.00C582.82 603.91 583.62 604.08 584.29 604.29C585.69 604.73 586.76 606.09 587.86 607.14C589.19 608.42 590.32 609.94 591.43 611.43C592.45 612.80 593.06 614.55 594.29 615.71C595.04 616.43 595.95 617.53 596.86 617.57C597.63 617.61 598.57 616.94 599.29 616.43C600.14 615.81 600.55 614.56 601.43 614.00C602.13 613.56 603.06 613.07 603.86 613.14C604.49 613.20 605.14 613.65 605.71 614.00C606.85 614.69 607.44 616.19 608.57 616.86C609.42 617.35 610.45 617.62 611.43 617.86C612.81 618.19 614.30 618.05 615.71 618.29C617.16 618.52 618.60 619.44 620.00 619.29C620.96 619.18 621.99 618.77 622.86 618.29C623.95 617.67 624.61 616.26 625.71 615.71C626.76 615.20 628.09 615.00 629.29 615.00C630.23 615.00 631.25 615.61 632.14 615.43C632.90 615.28 633.68 614.78 634.29 614.29C635.32 613.43 635.79 611.94 636.43 610.71C637.27 609.11 637.73 607.32 638.57 605.71C639.21 604.49 639.74 603.07 640.71 602.14C641.50 601.40 642.57 600.89 643.57 600.43C644.70 599.91 645.99 599.76 647.14 599.29C648.38 598.78 649.45 597.84 650.71 597.43C651.63 597.13 652.62 596.84 653.57 596.86C654.53 596.88 655.49 597.29 656.43 597.57C657.39 597.86 658.31 598.46 659.29 598.57C660.21 598.68 661.26 598.58 662.14 598.29C663.19 597.94 664.12 597.13 665.00 596.43C666.05 595.59 666.84 594.45 667.86 593.57C668.76 592.80 669.65 591.91 670.71 591.43C671.59 591.03 672.62 590.71 673.57 590.71C674.52 590.71 675.59 591.00 676.43 591.43C677.59 592.02 678.33 593.33 679.29 594.29C680.48 595.48 681.47 596.93 682.86 597.86C683.73 598.44 684.73 599.16 685.71 599.29C686.86 599.43 688.14 598.73 689.29 598.29C690.53 597.80 691.64 596.99 692.86 596.43C694.02 595.90 695.20 595.10 696.43 595.00C697.59 594.90 698.83 595.41 700.00 595.71C701.21 596.03 702.36 596.55 703.57 596.86C704.51 597.09 705.54 597.09 706.43 597.43C707.77 597.94 708.88 599.06 710.00 600.00C711.28 601.08 712.25 602.54 713.57 603.57C714.46 604.26 715.44 605.39 716.43 605.43C717.35 605.46 718.41 604.58 719.29 604.00C720.34 603.30 721.08 602.13 722.14 601.43C723.02 600.85 724.01 600.09 725.00 600.00C725.92 599.91 726.92 600.43 727.86 600.71C728.82 601.00 729.85 601.89 730.71 601.71C731.50 601.56 732.20 600.62 732.86 600.00C733.96 598.96 734.48 597.26 735.71 596.43C736.35 596.00 737.16 595.46 737.86 595.43C738.84 595.39 739.80 596.52 740.71 597.14C741.97 598.00 743.00 599.20 744.29 600.00C745.40 600.69 746.63 601.23 747.86 601.71C749.02 602.17 750.33 602.30 751.43 602.86C752.76 603.54 753.81 604.76 755.00 605.71C756.19 606.67 757.24 607.89 758.57 608.57C759.67 609.13 760.93 609.43 762.14 609.71C763.31 609.99 764.52 610.25 765.71 610.29C767.14 610.32 768.57 609.81 770.00 609.71C771.42 609.62 772.88 609.55 774.29 609.71C775.73 609.88 777.13 610.48 778.57 610.71C779.98 610.95 781.48 610.79 782.86 611.14C784.09 611.45 785.26 612.06 786.43 612.57C787.64 613.10 788.76 613.88 790.00 614.29C791.36 614.73 793.01 614.42 794.29 615.00C795.34 615.48 796.31 616.32 797.14 617.14C798.34 618.34 799.13 619.95 800.00 621.43C801.08 623.26 801.68 625.38 802.86 627.14C803.70 628.41 804.44 630.47 805.71 630.71C806.53 630.87 807.75 630.45 808.57 630.00C809.84 629.31 810.36 627.51 811.43 626.43C812.30 625.54 813.22 624.62 814.29 624.00C815.16 623.49 816.16 623.10 817.14 622.86C818.29 622.57 819.66 622.24 820.71 622.57C821.82 622.92 822.75 624.08 823.57 625.00C824.83 626.41 825.34 628.43 826.43 630.00C827.29 631.25 828.01 633.33 829.29 633.57C830.11 633.73 831.24 633.22 832.14 632.86C833.16 632.45 833.98 631.55 835.00 631.14C835.90 630.78 836.92 630.39 837.86 630.43C838.82 630.47 839.80 631.02 840.71 631.43C841.97 631.99 843.06 632.93 844.29 633.57C845.66 634.29 847.13 634.83 848.57 635.43C849.99 636.02 851.40 636.66 852.86 637.14C854.26 637.61 855.70 638.00 857.14 638.29C858.55 638.57 860.08 638.42 861.43 638.86C862.69 639.26 863.88 639.99 865.00 640.71C866.28 641.53 867.55 642.45 868.57 643.57C869.09 644.15 869.42 644.97 870.00 645.43C870.92 646.16 872.43 645.98 873.57 646.43C874.81 646.91 876.04 647.54 877.14 648.29C878.45 649.16 879.60 650.30 880.71 651.43C882.02 652.75 883.15 654.25 884.29 655.71C885.54 657.33 886.37 659.35 887.86 660.71C888.90 661.67 890.19 662.41 891.43 663.14C892.58 663.83 893.88 664.28 895.00 665.00C896.28 665.82 897.27 667.09 898.57 667.86C899.55 668.44 900.66 669.27 901.71 669.29C902.81 669.30 903.92 668.36 905.00 667.86C905.96 667.41 906.85 666.65 907.86 666.43C908.76 666.23 909.81 666.23 910.71 666.43C911.73 666.65 912.57 667.55 913.57 667.86C914.48 668.14 915.48 668.30 916.43 668.29C917.63 668.26 918.81 667.71 920.00 667.43C921.43 667.09 922.84 666.58 924.29 666.43C925.46 666.31 926.71 666.64 927.86 666.43C929.10 666.20 930.28 665.56 931.43 665.00C932.67 664.39 933.76 663.47 935.00 662.86C936.15 662.29 937.34 661.71 938.57 661.43C939.72 661.17 941.01 660.95 942.14 661.14C943.40 661.36 944.47 662.43 945.71 662.86C946.64 663.17 947.68 663.69 948.57 663.57C949.60 663.43 950.57 662.44 951.43 661.71C952.55 660.76 953.32 659.41 954.29 658.29C955.45 656.93 956.56 655.50 957.86 654.29C958.97 653.25 960.24 652.38 961.43 651.43C962.62 650.48 963.71 649.37 965.00 648.57C966.12 647.88 967.32 646.95 968.57 646.86C969.49 646.79 970.50 647.16 971.43 647.43C972.66 647.78 973.77 648.73 975.00 648.86C976.16 648.98 977.42 648.60 978.57 648.29C979.80 647.95 980.90 646.99 982.14 646.86C983.07 646.76 984.11 646.86 985.00 647.14C986.03 647.47 986.84 648.43 987.86 648.86C988.97 649.32 990.23 649.62 991.43 649.71C992.84 649.83 994.30 649.50 995.71 649.29C996.91 649.10 998.13 648.44 999.29 648.57C1000.26 648.69 1001.18 649.35 1002.14 649.71C1003.09 650.07 1004.04 650.65 1005.00 650.71C1006.18 650.79 1007.39 650.07 1008.57 649.71C1009.77 649.36 1010.93 648.88 1012.14 648.57C1013.32 648.27 1014.55 648.20 1015.71 647.86C1016.94 647.50 1018.18 647.05 1019.29 646.43C1020.60 645.69 1021.70 644.56 1022.86 643.57C1024.09 642.52 1025.09 641.16 1026.43 640.29C1027.52 639.57 1028.79 639.11 1030.00 638.57C1031.41 637.95 1032.89 637.50 1034.29 636.86C1035.75 636.18 1037.20 635.43 1038.57 634.57C1040.07 633.64 1041.37 632.39 1042.86 631.43C1044.24 630.54 1045.63 629.61 1047.14 629.00C1048.50 628.45 1049.98 628.17 1051.43 627.86C1052.84 627.55 1054.33 627.56 1055.71 627.14C1056.69 626.85 1057.69 626.51 1058.57 626.00C1059.07 625.71 1059.55 625.36 1060.00 625.00C1061.44 623.85 1062.24 622.00 1063.57 620.71C1064.67 619.66 1065.79 618.45 1067.14 617.86C1068.43 617.29 1070.06 617.58 1071.43 617.14C1072.93 616.67 1074.32 615.77 1075.71 615.00C1076.93 614.33 1078.00 613.35 1079.29 612.86C1080.19 612.51 1081.18 612.22 1082.14 612.14C1083.32 612.05 1084.52 612.55 1085.71 612.57C1087.14 612.60 1088.60 612.44 1090.00 612.14C1091.46 611.83 1092.86 611.19 1094.29 610.71C1095.71 610.24 1097.11 609.65 1098.57 609.29C1099.97 608.94 1101.49 609.00 1102.86 608.57C1104.36 608.09 1105.81 607.29 1107.14 606.43C1108.70 605.43 1110.12 604.17 1111.43 602.86C1112.74 601.55 1113.74 599.94 1115.00 598.57C1116.14 597.33 1117.21 595.96 1118.57 595.00C1119.65 594.23 1120.87 593.49 1122.14 593.14C1123.27 592.83 1124.54 593.05 1125.71 592.86C1127.17 592.62 1128.60 592.18 1130.00 591.71C1131.46 591.23 1132.84 590.51 1134.29 590.00C1135.46 589.58 1136.78 589.43 1137.86 588.86C1139.23 588.13 1140.33 586.85 1141.43 585.71C1143.07 584.01 1144.34 581.94 1145.71 580.00C1147.20 577.90 1148.35 575.53 1150.00 573.57C1151.29 572.03 1152.68 570.48 1154.29 569.29C1155.59 568.32 1157.15 567.68 1158.57 566.86C1160.01 566.02 1161.54 565.29 1162.86 564.29C1164.45 563.07 1165.88 561.56 1167.14 560.00C1168.54 558.26 1169.61 556.24 1170.71 554.29C1172.02 551.97 1173.10 549.52 1174.29 547.14C1175.48 544.76 1176.47 542.26 1177.86 540.00C1178.93 538.26 1180.10 536.55 1181.43 535.00C1182.52 533.73 1183.88 532.68 1185.00 531.43C1186.01 530.29 1187.04 529.13 1187.86 527.86C1188.72 526.52 1189.29 525.00 1190.00 523.57C1190.71 522.14 1191.34 520.66 1192.14 519.29C1192.80 518.16 1193.35 516.87 1194.29 516.00C1194.90 515.43 1195.64 514.85 1196.43 514.57C1197.01 514.37 1197.70 514.22 1198.29 514.29C1199.17 514.39 1200.04 515.11 1200.71 515.71C1201.72 516.61 1202.18 518.08 1202.86 519.29C1203.90 521.14 1204.84 523.06 1205.71 525.00C1206.77 527.33 1207.75 529.72 1208.57 532.14C1209.44 534.71 1210.06 537.37 1210.71 540.00C1211.53 543.31 1212.26 546.65 1212.86 550.00C1213.45 553.31 1213.71 556.68 1214.29 560.00C1214.78 562.87 1215.29 565.75 1216.00 568.57C1216.54 570.73 1216.78 573.10 1217.86 575.00C1218.59 576.30 1219.70 577.44 1220.71 578.57C1221.61 579.57 1222.77 580.37 1223.57 581.43C1225.09 583.44 1225.51 586.18 1226.43 588.57C1227.69 591.88 1228.87 595.22 1230.00 598.57C1231.27 602.35 1232.25 606.24 1233.57 610.00C1235.27 614.84 1237.76 619.41 1239.29 624.29C1240.89 629.40 1241.71 634.75 1242.86 640.00C1244.10 645.70 1245.31 651.41 1246.43 657.14C1247.44 662.37 1248.37 667.61 1249.29 672.86C1250.28 678.56 1251.02 684.32 1252.14 690.00C1253.00 694.31 1253.86 698.62 1255.00 702.86C1255.64 705.25 1256.29 707.66 1257.10 710.00C1257.92 712.37 1258.58 714.90 1259.90 717.00C1260.86 718.52 1262.09 719.94 1263.40 721.20C1264.47 722.23 1265.94 722.90 1266.90 724.00C1268.24 725.54 1268.88 727.69 1269.70 729.60C1270.86 732.31 1271.71 735.16 1272.50 738.00C1273.39 741.22 1273.97 744.52 1274.60 747.80C1275.41 751.98 1276.00 756.20 1276.70 760.40C1277.40 764.60 1278.06 768.81 1278.80 773.00C1279.46 776.74 1279.78 780.58 1280.90 784.20C1281.49 786.10 1281.87 788.21 1283.00 789.80C1283.75 790.85 1284.77 791.79 1285.80 792.60C1286.86 793.43 1288.13 794.00 1289.30 794.70C1290.47 795.40 1291.55 796.33 1292.80 796.80C1294.11 797.29 1295.60 797.24 1297.00 797.50C1298.17 797.72 1299.32 798.16 1300.50 798.20C1301.43 798.23 1302.52 798.30 1303.30 797.92C1304.21 797.47 1304.80 796.30 1305.40 795.40C1306.37 793.93 1306.84 792.15 1307.50 790.50C1308.52 787.97 1309.22 785.30 1310.30 782.80C1311.33 780.41 1312.42 778.00 1313.80 775.80C1315.03 773.83 1316.53 772.01 1318.00 770.20C1319.77 768.02 1321.73 766.00 1323.60 763.90C1325.47 761.80 1327.38 759.74 1329.20 757.60C1331.72 754.64 1334.07 751.53 1336.50 748.50"/>
</g>
<g stroke="#000" stroke-width="1.11" fill="none" stroke-linecap="square">
<rect x="136.5" y="42.5" width="1200.0" height="805.0" stroke-linejoin="miter"/>
</g><g stroke="#000" stroke-width="1.11" fill="none" stroke-linecap="butt">
<line x1="136.5" y1="847.5" x2="136.5" y2="852.9"/>
<line x1="336.5" y1="847.5" x2="336.5" y2="852.9"/>
<line x1="536.5" y1="847.5" x2="536.5" y2="852.9"/>
<line x1="736.5" y1="847.5" x2="736.5" y2="852.9"/>
<line x1="936.5" y1="847.5" x2="936.5" y2="852.9"/>
<line x1="1136.5" y1="847.5" x2="1136.5" y2="852.9"/>
<line x1="1336.5" y1="847.5" x2="1336.5" y2="852.9"/>
<line x1="136.5" y1="736.5" x2="131.1" y2="736.5"/>
<line x1="136.5" y1="620.5" x2="131.1" y2="620.5"/>
<line x1="136.5" y1="503.5" x2="131.1" y2="503.5"/>
<line x1="136.5" y1="386.5" x2="131.1" y2="386.5"/>
<line x1="136.5" y1="269.5" x2="131.1" y2="269.5"/>
<line x1="136.5" y1="153.5" x2="131.1" y2="153.5"/>
</g>
<g class="tk">
<text transform="translate(136.5 894.05) scale(1 1.035)" text-anchor="middle">0</text>
<text transform="translate(336.5 894.90) scale(1 1.035)" text-anchor="middle">5</text>
<text transform="translate(536.5 894.60) scale(1 1.035)" text-anchor="middle">10</text>
<text transform="translate(736.5 894.90) scale(1 1.035)" text-anchor="middle">15</text>
<text transform="translate(936.5 894.60) scale(1 1.035)" text-anchor="middle">20</text>
<text transform="translate(1136.5 894.90) scale(1 1.035)" text-anchor="middle">25</text>
<text transform="translate(1336.5 894.60) scale(1 1.035)" text-anchor="middle">30</text>
<text transform="translate(126.8 754.00) scale(1 1.035)" text-anchor="end">0</text>
<text transform="translate(126.8 638.60) scale(1 1.035)" text-anchor="end">1</text>
<text transform="translate(126.8 521.60) scale(1 1.035)" text-anchor="end">2</text>
<text transform="translate(126.8 404.60) scale(1 1.035)" text-anchor="end">3</text>
<text transform="translate(126.8 287.60) scale(1 1.035)" text-anchor="end">4</text>
<text transform="translate(126.8 171.60) scale(1 1.035)" text-anchor="end">5</text>
</g>
<text class="lb" x="736.5" y="955.2" text-anchor="middle">Energy (eV)</text>
<text class="lb" transform="translate(77.1 445) rotate(-90)" text-anchor="middle">Dielec. function (Real part)</text>
<rect x="1128.5" y="60.5" width="190" height="171" rx="7" ry="7" fill="#fff" fill-opacity="0.8" stroke="#cccccc" stroke-opacity="0.8" stroke-width="1.39"/>
<rect x="1141" y="88.0" width="75.2" height="3" fill="#e41a1c"/>
<text class="lg" y="102.1"><tspan class="it" x="1243.6">ε</tspan><tspan class="sb" x="1262.7" dy="6">1</tspan><tspan class="it" x="1279.8" dy="-6">x</tspan></text>
<rect x="1141" y="141.0" width="75.2" height="3" fill="#377eb8"/>
<text class="lg" y="155.6"><tspan class="it" x="1243.6">ε</tspan><tspan class="sb" x="1262.7" dy="6">1</tspan><tspan class="it" x="1279.8" dy="-6">y</tspan></text>
<rect x="1141" y="195.0" width="75.2" height="3" fill="#4daf4a"/>
<text class="lg" y="209.5"><tspan class="it" x="1243.6">ε</tspan><tspan class="sb" x="1262.7" dy="6">1</tspan><tspan class="it" x="1279.8" dy="-6">z</tspan></text>
</svg></body></html>
